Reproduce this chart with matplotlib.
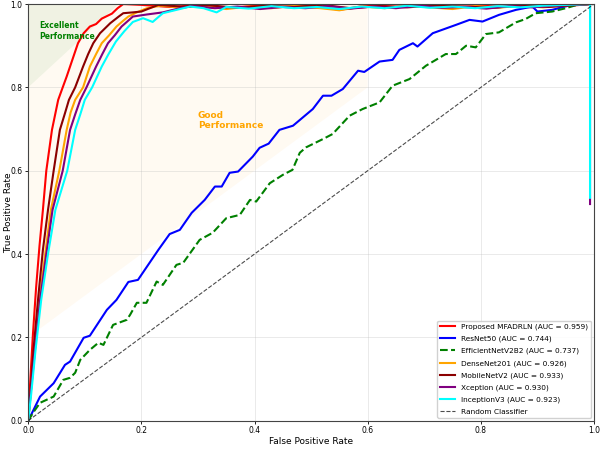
import matplotlib
matplotlib.use('Agg')
import matplotlib.pyplot as plt

# ROC points (FPR, TPR)
labels = ['Proposed MFADRLN (AUC = 0.959)', 'ResNet50 (AUC = 0.744)',
          'EfficientNetV2B2 (AUC = 0.737)', 'DenseNet201 (AUC = 0.926)',
          'MobileNetV2 (AUC = 0.933)', 'Xception (AUC = 0.930)',
          'InceptionV3 (AUC = 0.923)']

top_x = [0.2, 0.25, 0.3, 0.35, 0.4, 0.45, 0.5, 0.55, 0.6, 0.65, 0.7, 0.75, 0.8, 0.85, 0.9, 0.95, 0.994]

red_x = [0, 0.003, 0.008, 0.014, 0.02, 0.026, 0.032, 0.042, 0.053, 0.061, 0.068, 0.074, 0.081,
         0.088, 0.098, 0.109, 0.12, 0.13, 0.148, 0.158, 0.168] + top_x
red_y = [0, 0.08, 0.2, 0.32, 0.42, 0.506, 0.6, 0.698, 0.77, 0.8, 0.826, 0.85, 0.878,
         0.906, 0.93, 0.946, 0.952, 0.965, 0.977, 0.99, 1.0,
         0.998, 0.993, 0.997, 0.99, 0.996, 0.993, 0.998, 0.986, 0.997, 0.994, 0.999, 0.992,
         0.996, 0.993, 0.998, 0.995, 1.0]

blue_x = [0, 0.021, 0.045, 0.065, 0.074, 0.098, 0.109, 0.139, 0.156, 0.177, 0.194, 0.23, 0.25,
          0.268, 0.289, 0.312, 0.33, 0.342, 0.356, 0.371, 0.397, 0.409, 0.425, 0.444, 0.468,
          0.503, 0.521, 0.536, 0.556, 0.583, 0.594, 0.621, 0.644, 0.656, 0.68, 0.688, 0.715,
          0.756, 0.78, 0.803, 0.832, 0.862, 0.891, 0.9, 0.926, 0.96, 0.994]
blue_y = [0, 0.058, 0.09, 0.134, 0.142, 0.199, 0.204, 0.266, 0.29, 0.333, 0.338, 0.41, 0.448,
          0.458, 0.499, 0.53, 0.562, 0.562, 0.595, 0.598, 0.634, 0.655, 0.665, 0.698, 0.708,
          0.748, 0.78, 0.78, 0.796, 0.84, 0.837, 0.862, 0.866, 0.89, 0.906, 0.898, 0.93,
          0.95, 0.962, 0.958, 0.974, 0.986, 0.994, 0.982, 0.986, 0.998, 1.0]

green_x = [0, 0.009, 0.021, 0.045, 0.062, 0.074, 0.083, 0.092, 0.109, 0.124, 0.133, 0.15, 0.174,
           0.18, 0.192, 0.209, 0.227, 0.238, 0.262, 0.274, 0.303, 0.326, 0.35, 0.374, 0.392,
           0.403, 0.427, 0.45, 0.467, 0.48, 0.491, 0.521, 0.538, 0.568, 0.591, 0.621, 0.644,
           0.674, 0.703, 0.738, 0.756, 0.774, 0.791, 0.809, 0.832, 0.862, 0.879, 0.897, 0.926,
           0.95, 0.975, 0.994]
green_y = [0, 0.02, 0.043, 0.058, 0.098, 0.103, 0.115, 0.146, 0.17, 0.187, 0.182, 0.23, 0.242,
           0.254, 0.283, 0.283, 0.334, 0.326, 0.374, 0.379, 0.434, 0.451, 0.486, 0.494, 0.53,
           0.526, 0.57, 0.59, 0.602, 0.643, 0.656, 0.676, 0.688, 0.732, 0.748, 0.764, 0.804,
           0.82, 0.852, 0.88, 0.88, 0.9, 0.896, 0.928, 0.932, 0.956, 0.964, 0.978, 0.982,
           0.99, 1.0, 1.0]

orange_x = [0, 0.004, 0.011, 0.02, 0.03, 0.04, 0.055, 0.068, 0.075, 0.083, 0.097, 0.109, 0.12,
            0.13, 0.143, 0.156, 0.168, 0.177, 0.192, 0.21, 0.233, 0.27, 0.31, 0.35, 0.39, 0.43,
            0.47, 0.51, 0.55, 0.59, 0.63, 0.67, 0.71, 0.75, 0.79, 0.83, 0.87, 0.91, 0.95, 0.994]
orange_y = [0, 0.06, 0.17, 0.29, 0.4, 0.506, 0.6, 0.698, 0.74, 0.77, 0.8, 0.85, 0.88,
            0.906, 0.925, 0.946, 0.96, 0.97, 0.98, 0.99, 0.996, 0.992, 0.995, 0.988, 0.994,
            0.99, 0.996, 0.991, 0.985, 0.994, 0.99, 0.996, 0.992, 0.988, 0.995, 0.991, 0.996,
            0.992, 0.997, 1.0]

darkred_x = [0, 0.004, 0.01, 0.018, 0.026, 0.035, 0.045, 0.056, 0.065, 0.072, 0.083, 0.097,
             0.106, 0.115, 0.127, 0.145, 0.16, 0.168, 0.185, 0.2, 0.215, 0.23, 0.27, 0.32,
             0.37, 0.42, 0.47, 0.52, 0.57, 0.62, 0.67, 0.72, 0.77, 0.82, 0.87, 0.92, 0.96, 0.994]
darkred_y = [0, 0.07, 0.18, 0.3, 0.41, 0.506, 0.6, 0.698, 0.738, 0.77, 0.8, 0.85,
             0.88, 0.906, 0.93, 0.954, 0.97, 0.978, 0.98, 0.982, 0.99, 0.998, 0.994, 0.997,
             0.991, 0.996, 0.993, 0.998, 0.99, 0.995, 0.992, 0.997, 0.994, 0.991, 0.996, 0.993,
             0.997, 1.0]

purple_x = [0, 0.004, 0.012, 0.021, 0.032, 0.043, 0.061, 0.074, 0.083, 0.092, 0.103, 0.12,
            0.131, 0.141, 0.153, 0.165, 0.185, 0.21, 0.238, 0.268, 0.29, 0.33, 0.37, 0.41,
            0.45, 0.49, 0.53, 0.57, 0.61, 0.65, 0.69, 0.73, 0.77, 0.81, 0.85, 0.89, 0.93,
            0.96, 0.993, 0.993]
purple_y = [0, 0.06, 0.17, 0.29, 0.4, 0.506, 0.6, 0.698, 0.735, 0.77, 0.8, 0.85,
            0.88, 0.906, 0.925, 0.946, 0.97, 0.975, 0.98, 0.99, 0.995, 0.99, 0.994, 0.988,
            0.993, 0.99, 0.995, 0.989, 0.994, 0.99, 0.996, 0.991, 0.993, 0.989, 0.995, 0.992,
            0.996, 0.998, 1.0, 0.52]

cyan_x = [0, 0.005, 0.013, 0.023, 0.035, 0.048, 0.069, 0.083, 0.092, 0.1, 0.113, 0.13, 0.142,
          0.155, 0.17, 0.185, 0.203, 0.22, 0.238, 0.262, 0.286, 0.31, 0.333, 0.35, 0.39, 0.43,
          0.47, 0.51, 0.55, 0.59, 0.63, 0.67, 0.71, 0.75, 0.79, 0.83, 0.87, 0.91, 0.95,
          0.993, 0.993]
cyan_y = [0, 0.06, 0.17, 0.29, 0.4, 0.506, 0.6, 0.698, 0.735, 0.77, 0.8, 0.85, 0.88,
          0.91, 0.935, 0.957, 0.966, 0.957, 0.978, 0.986, 0.994, 0.99, 0.98, 0.993, 0.989,
          0.995, 0.99, 0.993, 0.988, 0.994, 0.99, 0.996, 0.991, 0.994, 0.99, 0.995, 0.992,
          0.996, 0.998, 1.0, 0.535]

curves = [
    (red_x, red_y, 'red', '-'),
    (blue_x, blue_y, 'blue', '-'),
    (green_x, green_y, 'green', '--'),
    (orange_x, orange_y, 'orange', '-'),
    (darkred_x, darkred_y, 'darkred', '-'),
    (purple_x, purple_y, 'purple', '-'),
    (cyan_x, cyan_y, 'cyan', '-'),
]

fig = plt.figure(figsize=(6, 4.49), dpi=100)
ax = fig.add_axes([0.047, 0.063, 0.943, 0.928])

# performance zones
ax.fill([0, 0.6, 0.6, 0], [0.2, 0.8, 1.0, 1.0], color='orange', alpha=0.05, lw=0)
ax.fill([0, 0.16, 0], [0.8, 1.0, 1.0], color='green', alpha=0.06, lw=0)
ax.text(0.02, 0.935, 'Excellent\nPerformance', color='green', fontsize=5.5,
        fontweight='bold', va='center', ha='left')
ax.text(0.3, 0.72, 'Good\nPerformance', color='orange', fontsize=6.5,
        fontweight='bold', va='center', ha='left')

for (xs, ys, c, ls), lab in zip(curves, labels):
    ax.plot(xs, ys, color=c, linestyle=ls, lw=1.5, label=lab)

ax.plot([0, 1], [0, 1], 'k--', lw=0.8, alpha=0.7, label='Random Classifier')

ax.set_xlim(0, 1)
ax.set_ylim(0, 1)
ax.set_xticks([0, 0.2, 0.4, 0.6, 0.8, 1.0])
ax.set_yticks([0, 0.2, 0.4, 0.6, 0.8, 1.0])
ax.tick_params(labelsize=5.5, length=2.5, width=0.6, pad=1.5)
ax.set_xlabel('False Positive Rate', fontsize=6.5, labelpad=1)
ax.set_ylabel('True Positive Rate', fontsize=6.5)
ax.yaxis.set_label_coords(-0.027, 0.5)
ax.grid(True, alpha=0.3, lw=0.6)
for s in ax.spines.values():
    s.set_color('#444444')
    s.set_linewidth(0.8)

ax.legend(loc='lower right', fontsize=5.3, framealpha=0.9, edgecolor='#cccccc',
          borderaxespad=0.4, handlelength=2.0, labelspacing=0.75)

fig.savefig('out.png', dpi=100)
